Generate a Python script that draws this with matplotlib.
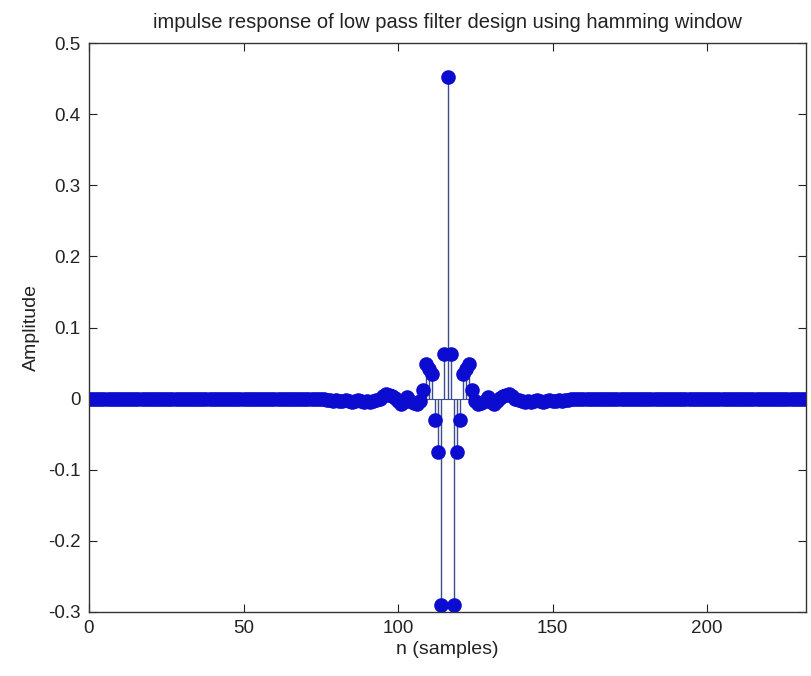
import numpy as np
import matplotlib.pyplot as plt

plt.rcParams['font.family'] = ['Liberation Sans Narrow', 'Liberation Sans', 'DejaVu Sans']

# impulse response: centre tap first, then taps 1, 2, ... away from it
# (the picture is symmetric about n = 116)
half = [0.452, 0.063, -0.29, -0.075, -0.03, 0.035, 0.042, 0.048, 0.012, -0.004,
        -0.008, -0.006, -0.003, 0.002, -0.005, -0.007, -0.004, 0.001, 0.003, 0.005,
        0.006, 0.003, 0.0, -0.002, -0.004, -0.005, -0.003, -0.005, -0.004, -0.002,
        -0.004, -0.005, -0.003, -0.002, -0.004, -0.003, -0.002, -0.003, -0.002, -0.002,
        -0.001]
N = 233
center = 116

title = "impulse response of low pass filter design using hamming window"
xlabel = "n (samples)"
ylabel = "Amplitude"
xticks = [0, 50, 100, 150, 200]
yticks = [-0.3, -0.2, -0.1, 0, 0.1, 0.2, 0.3, 0.4, 0.5]

h = np.zeros(N)
for k, v in enumerate(half):
    h[center - k] = v
    h[center + k] = v
n = np.arange(N)

fig = plt.figure(figsize=(8.11, 6.76), dpi=100)
ax = fig.add_axes([89/811, 1 - 612/676, (806 - 89)/811, (612 - 43)/676])

ml, sl, bl = ax.stem(n, h, basefmt=' ')
plt.setp(sl, color='#3c4c8c', linewidth=1.0)
plt.setp(ml, color='#0c0cd0', markersize=9.5, markeredgecolor='#0c0cd0')
ax.axhline(0, color='#3c4c8c', lw=0.8, zorder=1)

ax.set_xlim(0, 232)
ax.set_ylim(-0.3, 0.5)
ax.set_xticks(xticks)
ax.set_yticks(yticks)
ax.set_yticklabels(['-0.3', '-0.2', '-0.1', '0', '0.1', '0.2', '0.3', '0.4', '0.5'])
ax.tick_params(direction='in', top=True, right=True, length=6, labelsize=13.5,
               colors='#222222', pad=6)
for s in ax.spines.values():
    s.set_color('#333333')
    s.set_linewidth(1.0)

ax.set_title(title, fontsize=14.5, color='#222222', pad=11)
ax.set_xlabel(xlabel, fontsize=14, color='#222222', labelpad=3)
ax.set_ylabel(ylabel, fontsize=14, color='#222222', labelpad=6)

fig.savefig('out.png', dpi=100)
